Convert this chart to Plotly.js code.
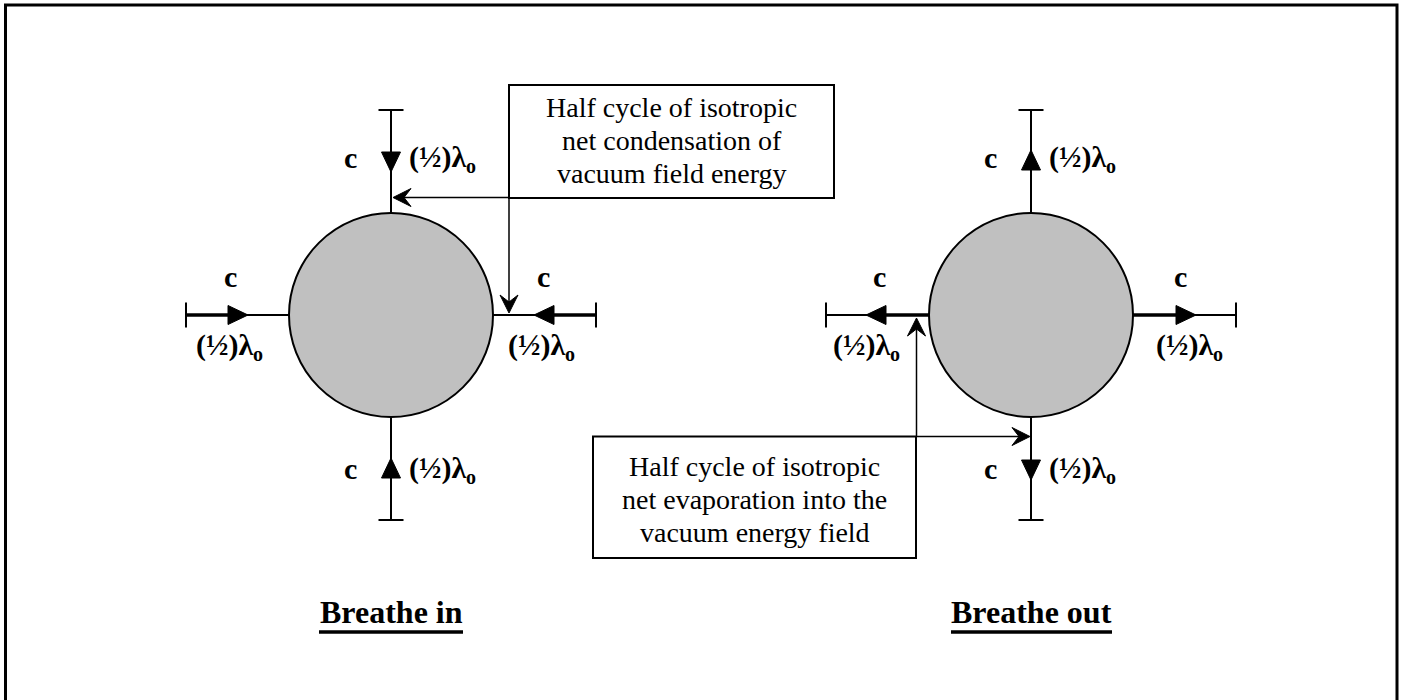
<!DOCTYPE html>
<html><head><meta charset="utf-8">
<script src="https://cdn.plot.ly/plotly-3.0.1.min.js"></script>
<style>html,body{margin:0;padding:0;background:#fff;}#chart{width:1404px;height:700px;}</style>
</head><body><div id="chart"></div>
<script>
// ---- content ----
const panelTitles = ['Breathe in', 'Breathe out'];
const flowDirection = ['in', 'out'];
const speedLabel = 'c';
const waveLabel = '(½)λ';
const waveSubscript = 'o';
const calloutInLines = ['Half cycle of isotropic', 'net condensation of', 'vacuum field energy'];
const calloutOutLines = ['Half cycle of isotropic', 'net evaporation into the', 'vacuum energy field'];

// ---- layout constants ----
const FONT = '"Liberation Serif", "Times New Roman", serif';
const shapes = [];
const annotations = [];
const K = '#000';

function line(x0, y0, x1, y1, w) {
  shapes.push({type: 'line', x0, y0, x1, y1, layer: 'above', line: {color: K, width: w || 2}});
}
function tri(tx, ty, dx, dy, len, half) {
  const bx = tx - dx * len, by = ty - dy * len, px = -dy, py = dx;
  shapes.push({type: 'path', layer: 'above',
    path: `M${tx},${ty} L${bx + px * half},${by + py * half} L${bx - px * half},${by - py * half} Z`,
    fillcolor: K, line: {color: K, width: 1}});
}
function barb(tx, ty, dx, dy) {
  const len = 18, half = 9, notch = 11, px = -dy, py = dx;
  const bx = tx - dx * len, by = ty - dy * len, nx = tx - dx * notch, ny = ty - dy * notch;
  shapes.push({type: 'path', layer: 'above',
    path: `M${tx},${ty} L${bx + px * half},${by + py * half} L${nx},${ny} L${bx - px * half},${by - py * half} Z`,
    fillcolor: K, line: {color: K, width: 1}});
}
function txt(x, y, t, size, bold, xanchor) {
  annotations.push({x, y, xref: 'x', yref: 'y', text: bold ? '<b>' + t + '</b>' : t, showarrow: false,
    xanchor: xanchor || 'center', yanchor: 'middle',
    font: {family: FONT, size: size, color: K}});
}
// wave label: main part right-anchored at junction, subscript just after it
const S = 30, SUB = 20, MAINW = 60, SUBW = 11;
function wave(xJ, y) {
  txt(xJ, y, waveLabel, S, true, 'right');
  txt(xJ - 4, y + 9, waveSubscript, SUB, true, 'left');
}
function waveLeft(x, y) { wave(x + MAINW, y); }
function waveCenter(x, y) { wave(x + (MAINW + SUBW) / 2 - SUBW, y); }

const centersX = [391, 1031];
const cy = 315, R = 102, ARM = 103, TICK = 12.5;
const dirs = [[0, -1], [0, 1], [-1, 0], [1, 0]];

// outer frame
shapes.push({type: 'rect', x0: 5.5, y0: 5, x1: 1397, y1: 712, line: {color: K, width: 3}});

centersX.forEach((cx, p) => {
  const inward = flowDirection[p] === 'in';
  shapes.push({type: 'circle', x0: cx - R, x1: cx + R, y0: cy - R, y1: cy + R,
    fillcolor: '#c0c0c0', line: {color: K, width: 2}});
  dirs.forEach(([ux, uy]) => {
    const ex = cx + ux * R, ey = cy + uy * R;
    const tx = cx + ux * (R + ARM), ty = cy + uy * (R + ARM);
    line(ex, ey, tx, ty, 2);
    line(tx - uy * TICK, ty - ux * TICK, tx + uy * TICK, ty + ux * TICK, 2);
    let tipD, baseD;
    if (inward) { tipD = 143; baseD = 163; } else { tipD = 165; baseD = 145; }
    const dX = inward ? -ux : ux, dY = inward ? -uy : uy;
    tri(cx + ux * tipD, cy + uy * tipD, dX, dY, 20, 9.5);
    if (uy === 0) {
      if (inward) line(cx + ux * baseD, cy, tx, cy, 3.5);
      else line(ex, cy, cx + ux * baseD, cy, 3.5);
    }
  });
  txt(cx - 41, cy - 158, speedLabel, S, true);
  waveLeft(cx + 17, cy - 158);
  txt(cx - 41, cy + 153, speedLabel, S, true);
  waveLeft(cx + 17, cy + 153);
  const cL = inward ? -161 : -152, wL = inward ? -161 : -164;
  const cR = inward ? 152 : 149, wR = inward ? 151 : 159;
  txt(cx + cL, cy - 39, speedLabel, S, true);
  waveCenter(cx + wL, cy + 30);
  txt(cx + cR, cy - 39, speedLabel, S, true);
  waveCenter(cx + wR, cy + 30);
  txt(cx, 612, panelTitles[p], 32, true);
});
line(319, 632, 463, 632, 3.5);
line(951, 632, 1112, 632, 3.5);

// callout 1 (condensation)
shapes.push({type: 'rect', x0: 509, y0: 85, x1: 834, y1: 198, line: {color: K, width: 2}});
calloutInLines.forEach((t, i) => txt(671.5, 107 + i * 33, t, 28, false));
line(509, 197.5, 400, 197.5, 1.5); barb(393, 197.5, -1, 0);
line(509, 198, 509, 306, 1.5); barb(509, 313, 0, 1);

// callout 2 (evaporation)
shapes.push({type: 'rect', x0: 593, y0: 436.5, x1: 916, y1: 558, line: {color: K, width: 2}});
calloutOutLines.forEach((t, i) => txt(754.5, 466 + i * 33, t, 28, false));
line(916.5, 436.5, 916.5, 325, 1.5); barb(916.5, 318, 0, -1);
line(916, 436.5, 1023, 436.5, 1.5); barb(1030, 436.5, 1, 0);

const layout = {
  width: 1404, height: 700,
  margin: {l: 0, r: 0, t: 0, b: 0},
  paper_bgcolor: '#fff', plot_bgcolor: '#fff',
  xaxis: {range: [0, 1404], visible: false, fixedrange: true},
  yaxis: {range: [700, 0], visible: false, fixedrange: true},
  showlegend: false,
  shapes, annotations
};
Plotly.newPlot('chart', [], layout, {staticPlot: true, displayModeBar: false});
</script>
</body></html>
